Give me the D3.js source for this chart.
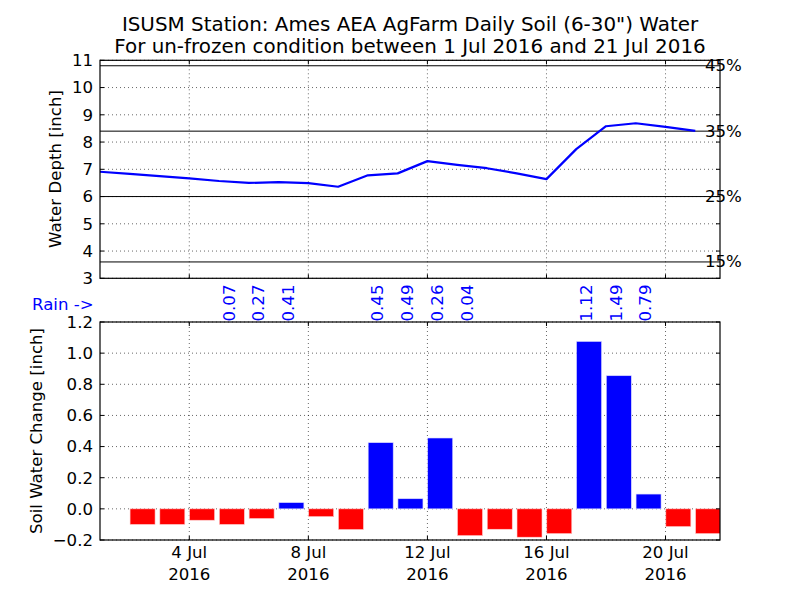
<!DOCTYPE html>
<html><head><meta charset="utf-8">
<script src="https://cdn.jsdelivr.net/npm/d3@7"></script>
<style>
body{margin:0;background:#fff;}
svg{display:block;font-family:"DejaVu Sans",sans-serif;}
</style></head>
<body><svg id="c" width="800" height="600"></svg>
<script>
// ---- data ----
const depthDays = ["2016-07-01","2016-07-02","2016-07-03","2016-07-04","2016-07-05","2016-07-06","2016-07-07","2016-07-08","2016-07-09","2016-07-10","2016-07-11","2016-07-12","2016-07-13","2016-07-14","2016-07-15","2016-07-16","2016-07-17","2016-07-18","2016-07-19","2016-07-20","2016-07-21"];
const depthValues = [6.91,6.83,6.75,6.67,6.57,6.50,6.53,6.49,6.36,6.78,6.85,7.30,7.16,7.04,6.85,6.64,7.74,8.58,8.69,8.56,8.41];
const changeDays = ["2016-07-02","2016-07-03","2016-07-04","2016-07-05","2016-07-06","2016-07-07","2016-07-08","2016-07-09","2016-07-10","2016-07-11","2016-07-12","2016-07-13","2016-07-14","2016-07-15","2016-07-16","2016-07-17","2016-07-18","2016-07-19","2016-07-20","2016-07-21"];
const changeValues = [-0.10,-0.10,-0.073,-0.10,-0.062,0.04,-0.05,-0.133,0.425,0.065,0.455,-0.172,-0.131,-0.182,-0.159,1.075,0.855,0.095,-0.114,-0.159];
const rainDays = ["2016-07-05","2016-07-06","2016-07-07","2016-07-10","2016-07-11","2016-07-12","2016-07-13","2016-07-17","2016-07-18","2016-07-19"];
const rainValues = ["0.07","0.27","0.41","0.45","0.49","0.26","0.04","1.12","1.49","0.79"];
const percentLevels = [0.15,0.25,0.35,0.45];
const percentLabels = ["15%","25%","35%","45%"];
const layerThickness = 24; // inches (6-30")
const depthTicks = [3,4,5,6,7,8,9,10,11];
const changeTicks = [-0.2,0,0.2,0.4,0.6,0.8,1.0,1.2];
const xTickDays = ["2016-07-04","2016-07-08","2016-07-12","2016-07-16","2016-07-20"];
const titleLines = ["ISUSM Station: Ames AEA AgFarm Daily Soil (6-30\") Water","For un-frozen condition between 1 Jul 2016 and 21 Jul 2016"];

// ---- setup ----
const svg = d3.select("#c");
const parse = d3.utcParse("%Y-%m-%d");
const DAY = 86400000;
const x0 = parse("2016-07-01");
const x = d3.scaleUtc().domain([x0, new Date(+x0 + 20.83*DAY)]).range([100, 720]);
const yTop = d3.scaleLinear().domain([3, 11]).range([278.3, 60.3]);
const yBot = d3.scaleLinear().domain([-0.2, 1.2]).range([540, 322]);
const FS = 16.6;

const defs = svg.append("defs");
defs.append("clipPath").attr("id","clipT").append("rect").attr("x",100).attr("y",60.3).attr("width",620).attr("height",218);
defs.append("clipPath").attr("id","clipB").append("rect").attr("x",100).attr("y",322).attr("width",620).attr("height",218);

// title
svg.append("g").selectAll("text").data(titleLines).join("text")
  .attr("x", 410).attr("y",(d,i)=>31+i*21.5).attr("text-anchor","middle")
  .attr("font-size",19.9).text(d=>d);

function gridAndTicks(g, y, yticks){
  const xt = xTickDays.map(parse);
  g.append("g").selectAll("line").data(xt).join("line")
    .attr("x1",d=>x(d)).attr("x2",d=>x(d)).attr("y1",y.range()[0]).attr("y2",y.range()[1])
    .attr("stroke","#000").attr("stroke-width",0.6).attr("stroke-dasharray","1,3");
  g.append("g").selectAll("line").data(yticks).join("line")
    .attr("x1",100).attr("x2",720).attr("y1",d=>y(d)).attr("y2",d=>y(d))
    .attr("stroke","#000").attr("stroke-width",0.6).attr("stroke-dasharray","1,3");
}
function frame(g, y, yticks){
  const [b,t] = y.range();
  const xt = xTickDays.map(parse);
  const tk = g.append("g").attr("stroke","#000").attr("stroke-width",1);
  xt.forEach(d=>{
    tk.append("line").attr("x1",x(d)).attr("x2",x(d)).attr("y1",b).attr("y2",b-4);
    tk.append("line").attr("x1",x(d)).attr("x2",x(d)).attr("y1",t).attr("y2",t+4);
  });
  yticks.forEach(d=>{
    tk.append("line").attr("x1",100).attr("x2",104).attr("y1",y(d)).attr("y2",y(d));
    tk.append("line").attr("x1",720).attr("x2",716).attr("y1",y(d)).attr("y2",y(d));
  });
  g.append("rect").attr("x",100).attr("y",t).attr("width",620).attr("height",b-t)
    .attr("fill","none").attr("stroke","#000").attr("stroke-width",1.2);
}

// ---- top panel ----
const gT = svg.append("g");
gridAndTicks(gT, yTop, depthTicks);
const plotT = gT.append("g").attr("clip-path","url(#clipT)");
plotT.selectAll("line.pct").data(percentLevels).join("line").attr("class","pct")
  .attr("x1",100).attr("x2",720).attr("y1",d=>yTop(d*layerThickness)).attr("y2",d=>yTop(d*layerThickness))
  .attr("stroke","#000").attr("stroke-width",1);
const depthData = depthDays.map((d,i)=>({t:parse(d), v:depthValues[i]}));
plotT.append("path").datum(depthData)
  .attr("d", d3.line().x(d=>x(d.t)).y(d=>yTop(d.v)))
  .attr("fill","none").attr("stroke","#0000ff").attr("stroke-width",2.2).attr("stroke-linejoin","round");
frame(gT, yTop, depthTicks);
const yAxT = gT.append("g").attr("transform","translate(100,0)")
  .call(d3.axisLeft(yTop).tickValues(depthTicks).tickSize(0).tickPadding(7).tickFormat(d3.format("d")));
yAxT.select(".domain").remove();
yAxT.selectAll("text").attr("font-size",FS).attr("font-family","DejaVu Sans").attr("fill","#000");
gT.append("g").selectAll("text").data(percentLevels).join("text")
  .attr("x",705).attr("y",d=>yTop(d*layerThickness)).attr("dy","0.33em")
  .attr("font-size",FS).text((d,i)=>percentLabels[i]);
gT.append("text").attr("transform","translate(61,169) rotate(-90)").attr("text-anchor","middle")
  .attr("font-size",FS).text("Water Depth [inch]");

// ---- bottom panel ----
const gB = svg.append("g");
gridAndTicks(gB, yBot, changeTicks);
const plotB = gB.append("g").attr("clip-path","url(#clipB)");
const changeData = changeDays.map((d,i)=>({t:parse(d), v:changeValues[i]}));
plotB.selectAll("rect").data(changeData).join("rect")
  .attr("x",d=>x(d.t)+0.3)
  .attr("width",d=>x(new Date(+d.t+0.84*DAY))-x(d.t))
  .attr("y",d=>yBot(Math.max(0,d.v)))
  .attr("height",d=>Math.abs(yBot(d.v)-yBot(0)))
  .attr("fill",d=>d.v>=0?"#0000ff":"#ff0000")
  .attr("stroke",d=>d.v>=0?"#d8d8ff":"#ffd0d0").attr("stroke-width",0.6);
frame(gB, yBot, changeTicks);
const yAxB = gB.append("g").attr("transform","translate(100,0)")
  .call(d3.axisLeft(yBot).tickValues(changeTicks).tickSize(0).tickPadding(7)
    .tickFormat(d=>d3.format(".1f")(d).replace("-","\u2212")));
yAxB.select(".domain").remove();
yAxB.selectAll("text").attr("font-size",FS).attr("font-family","DejaVu Sans").attr("fill","#000");
const xl = gB.append("g").selectAll("text").data(xTickDays.map(parse)).join("text")
  .attr("text-anchor","middle").attr("font-size",FS);
xl.append("tspan").attr("x",d=>x(d)).attr("y",558).text(d=>d3.utcFormat("%-d %b")(d));
xl.append("tspan").attr("x",d=>x(d)).attr("y",580).text(d=>d3.utcFormat("%Y")(d));
gB.append("text").attr("transform","translate(42,431) rotate(-90)").attr("text-anchor","middle")
  .attr("font-size",FS).text("Soil Water Change [inch]");
svg.append("text").attr("x",32).attr("y",310).attr("font-size",FS).attr("fill","#0000ff").text("Rain ->");
svg.append("g").selectAll("text").data(rainDays.map((d,i)=>({t:parse(d), s:rainValues[i]}))).join("text")
  .attr("transform",d=>`translate(${x(d.t)+15.5},321.5) rotate(-90)`)
  .attr("font-size",FS).attr("fill","#0000ff").text(d=>d.s);
</script></body></html>
